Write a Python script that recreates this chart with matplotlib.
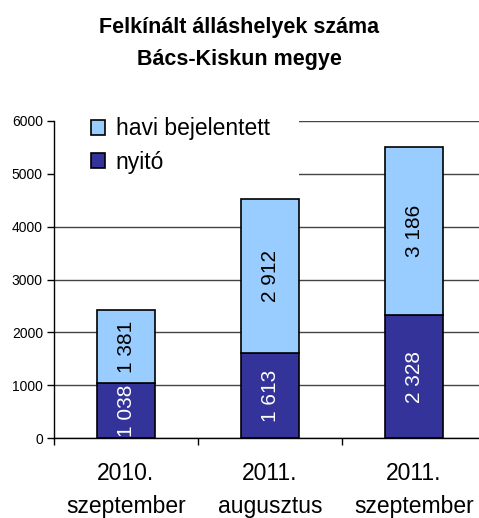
import matplotlib
matplotlib.use('Agg')
import matplotlib.pyplot as plt
from matplotlib.patches import Rectangle, Patch

plt.rcParams['font.family'] = ['Liberation Sans', 'DejaVu Sans']

categories = ['2010.\nszeptember', '2011.\naugusztus', '2011.\nszeptember']
nyito = [1038, 1613, 2328]
havi = [1381, 2912, 3186]
labels_nyito = ['1 038', '1 613', '2 328']
labels_havi = ['1 381', '2 912', '3 186']
yticks = [0, 1000, 2000, 3000, 4000, 5000, 6000]

dark = '#333399'
light = '#99CCFF'

fig = plt.figure(figsize=(4.79, 5.18), dpi=100)
# axes runs past right edge like in the original
ax = fig.add_axes([54 / 479, 80 / 518, 432 / 479, 317 / 518])

x = [0.5, 1.5, 2.5]
w = 0.4
ax.bar(x, nyito, width=w, color=dark, edgecolor='black', linewidth=1.2, zorder=2)
ax.bar(x, havi, width=w, bottom=nyito, color=light, edgecolor='black', linewidth=1.2, zorder=2)

for xi, a, b, la, lb in zip(x, nyito, havi, labels_nyito, labels_havi):
    ax.text(xi, a / 2, la, rotation=90, ha='center', va='center',
            color='white', fontsize=15, zorder=3, clip_on=True)
    ax.text(xi, a + b / 2, lb, rotation=90, ha='center', va='center',
            color='black', fontsize=15, zorder=3)

ax.set_xlim(0, 3)
ax.set_ylim(0, 6000)
ax.set_yticks(yticks)
ax.set_yticklabels([str(t) for t in yticks], fontsize=10)
ax.set_xticks([0, 1, 2, 3])
ax.set_xticklabels([])
ax.set_xticks(x, minor=True)
ax.set_xticklabels(categories, minor=True, fontsize=16.5, linespacing=1.6)
ax.tick_params(axis='x', which='minor', length=0, pad=17)
ax.tick_params(axis='x', which='major', length=5, width=1, direction='out')
ax.tick_params(axis='y', length=5, width=1, direction='out', pad=3)

ax.yaxis.grid(True, color='#444444', linewidth=1)
ax.set_axisbelow(True)
for s in ['top', 'right']:
    ax.spines[s].set_visible(False)
ax.spines['left'].set_linewidth(1)
ax.spines['bottom'].set_linewidth(1)

# white box behind legend hides the gridlines
ax.add_patch(Rectangle((0.0, 4700), 1.7, 1700, facecolor='white',
                       edgecolor='none', zorder=1, clip_on=False))

handles = [Patch(facecolor=light, edgecolor='black', linewidth=1.2),
           Patch(facecolor=dark, edgecolor='black', linewidth=1.2)]
ax.legend(handles, ['havi bejelentett', 'nyitó'], loc='upper left',
          bbox_to_anchor=(80 / 479, 1 - 106 / 518), bbox_transform=fig.transFigure,
          frameon=False, fontsize=16.5, handlelength=0.6, handleheight=0.6,
          handletextpad=0.45, labelspacing=0.45, borderpad=0)

fig.text(0.5, 1 - 27 / 518, 'Felkínált álláshelyek száma', ha='center', va='center',
         fontsize=15.5, fontweight='bold')
fig.text(0.5, 1 - 60 / 518, 'Bács-Kiskun megye', ha='center', va='center',
         fontsize=15.5, fontweight='bold')

fig.savefig('out.png', dpi=100)
